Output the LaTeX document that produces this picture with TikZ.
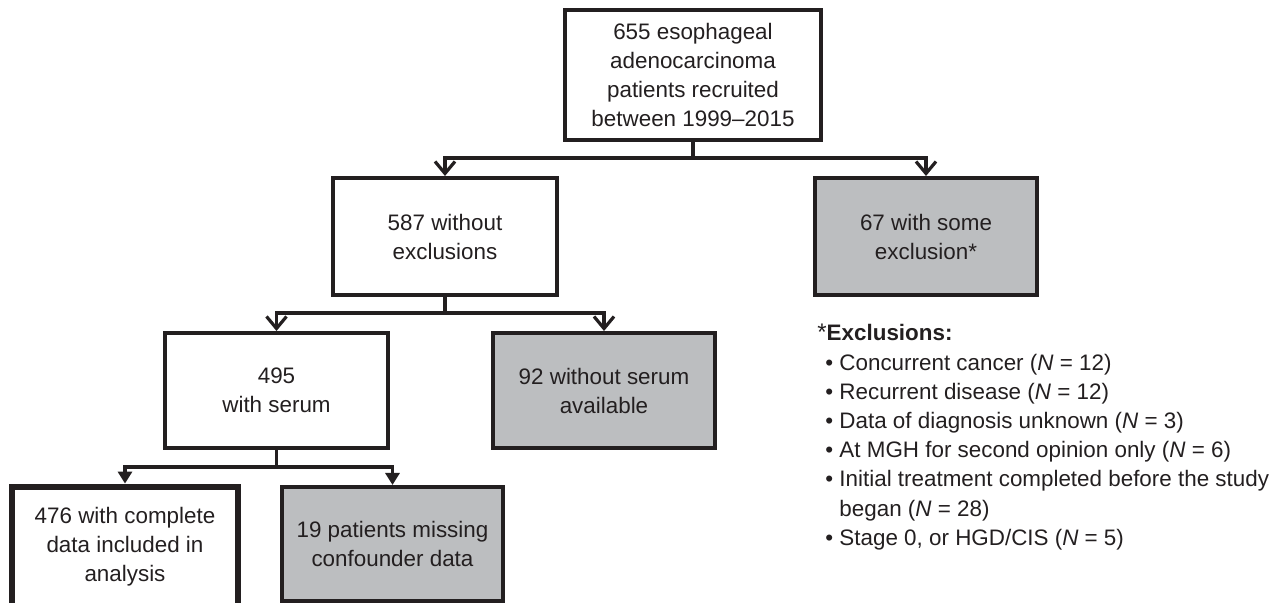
\documentclass[tikz,border=0pt]{standalone}
\usepackage{fontspec}
\setmainfont{Liberation Sans}
\usetikzlibrary{arrows.meta}
\definecolor{ink}{HTML}{231F20}
\definecolor{boxgray}{HTML}{BCBEC0}

\begin{document}
\begin{tikzpicture}[x=0.5pt,y=-0.5pt,
  box/.style={draw=ink,line width=2pt,fill=white,text=ink,align=center,inner sep=0pt,
    font=\fontsize{11.2}{14.5}\selectfont},
  shaded/.style={box,fill=boxgray},
  final/.style={box,line width=3.4pt},
  link/.style={draw=ink,line width=1.6pt},
  barb/.style={link,-{Straight Barb[length=6pt,width=10pt]}},
  tip/.style={link,-{Triangle[length=6pt,width=7pt]}}]

\useasboundingbox (0,0) rectangle (1281,603);
\clip (0,0) rectangle (1281,603);

\node[box,minimum width=128pt,minimum height=65pt] (recruited) at (693,75)
  {655 esophageal\\adenocarcinoma\\patients recruited\\between 1999--2015};
\node[box,minimum width=112pt,minimum height=58.5pt] (noexcl) at (445,236.5)
  {587 without\\exclusions};
\node[shaded,minimum width=111pt,minimum height=58.5pt] (someexcl) at (926,236.5)
  {67 with some\\exclusion*};
\node[box,minimum width=111.5pt,minimum height=57.5pt] (serum) at (276.5,390.5)
  {495\\with serum};
\node[shaded,minimum width=111pt,minimum height=57.5pt] (noserum) at (604,390.5)
  {92 without serum\\available};
\node[final,minimum width=113pt,minimum height=60pt] (complete) at (125,547)
  {476 with complete\\data included in\\analysis};
\node[shaded,minimum width=110.5pt,minimum height=57pt] (missing) at (392.5,544)
  {19 patients missing\\confounder data};

\coordinate (split1) at (693,158);
\coordinate (split2) at (445,313);
\coordinate (split3) at (276.5,467);

\draw[link] (recruited.south) -- (split1);
\draw[barb] (split1) -| (noexcl.north);
\draw[barb] (split1) -| (someexcl.north);
\draw[link] (noexcl.south) -- (split2);
\draw[barb] (split2) -| (serum.north);
\draw[barb] (split2) -| (noserum.north);
\draw[link] (serum.south) -- (split3);
\draw[tip] (split3) -| (complete.north);
\draw[tip] (split3) -| (missing.north);

\node[anchor=north west,inner sep=0pt,align=left,text=ink,
  font=\fontsize{11.2}{14.6}\selectfont] (exclusions) at (817,324)
  {{\large*}\textbf{Exclusions:}\\
   \hspace*{4pt}\textbullet\ Concurrent cancer (\textit{N} = 12)\\
   \hspace*{4pt}\textbullet\ Recurrent disease (\textit{N} = 12)\\
   \hspace*{4pt}\textbullet\ Data of diagnosis unknown (\textit{N} = 3)\\
   \hspace*{4pt}\textbullet\ At MGH for second opinion only (\textit{N} = 6)\\
   \hspace*{4pt}\textbullet\ Initial treatment completed before the study\\
   \hspace*{4pt}\phantom{\textbullet\ }began (\textit{N} = 28)\\
   \hspace*{4pt}\textbullet\ Stage 0, or HGD/CIS (\textit{N} = 5)};
\end{tikzpicture}
\end{document}
